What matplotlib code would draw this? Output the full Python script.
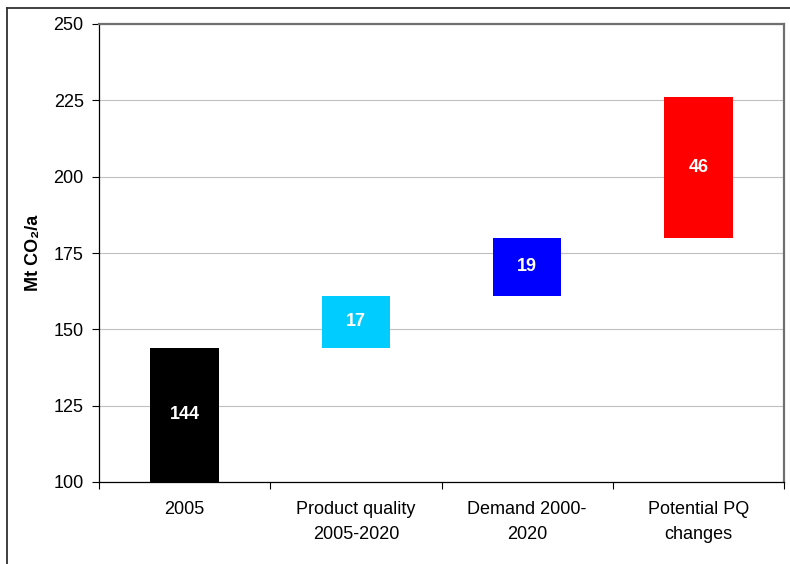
import matplotlib
matplotlib.use("Agg")
import matplotlib.pyplot as plt
from matplotlib.lines import Line2D
import numpy as np

plt.rcParams['font.family'] = ['Liberation Sans', 'DejaVu Sans']

categories = ["2005", "Product quality\n2005-2020", "Demand 2000-\n2020", "Potential PQ\nchanges"]
values = [144, 17, 19, 46]
base_start = 100
colors = ["#000000", "#00CCFF", "#0000FF", "#FF0000"]
y_ticks = [100, 125, 150, 175, 200, 225, 250]

# waterfall bottoms: first bar starts at the axis floor, others stack on the running total
bottoms = []
running = 0
for i, v in enumerate(values):
    if i == 0:
        bottoms.append(base_start)
        running = v
    else:
        bottoms.append(running)
        running += v
heights = [values[0] - base_start] + values[1:]

W, H = 790, 564
fig = plt.figure(figsize=(W / 100, H / 100), dpi=100)
ax = fig.add_axes([99 / W, 1 - 482 / H, (784 - 99) / W, (482 - 24) / H])

x = np.arange(len(categories))
ax.bar(x, heights, bottom=bottoms, width=0.4, color=colors, zorder=3)

for xi, b, h, v in zip(x, bottoms, heights, values):
    ax.text(xi, b + h / 2, f"{v}", ha="center", va="center", color="white",
            fontsize=13, fontweight="bold", zorder=4)

ax.set_xlim(-0.5, len(categories) - 0.5)
ax.set_ylim(100, 250)
ax.set_yticks(y_ticks)
ax.tick_params(axis="y", direction="out", length=5, width=0.8, labelsize=13, pad=6, colors="black")
ax.yaxis.grid(True, color="#C0C0C0", linewidth=0.8, zorder=0)

ax.set_xticks(x)
ax.set_xticklabels(categories, fontsize=13, linespacing=1.6)
ax.tick_params(axis="x", length=0, pad=14)
ax.set_xticks(np.arange(len(categories) + 1) - 0.5, minor=True)
ax.tick_params(axis="x", which="minor", direction="out", length=5, width=0.8, color="black")

ax.set_ylabel("Mt CO\u2082/a", fontsize=13, fontweight="bold", labelpad=8)

for side in ("left", "bottom"):
    ax.spines[side].set_color("black")
    ax.spines[side].set_linewidth(0.9)
for side in ("top", "right"):
    ax.spines[side].set_color("#707070")
    ax.spines[side].set_linewidth(1.6)

# outer frame of the figure (left and top edges)
fig.add_artist(Line2D([6.5 / W, 6.5 / W], [0, 1 - 7.5 / H], transform=fig.transFigure,
                      color="#303030", linewidth=1.3))
fig.add_artist(Line2D([6.5 / W, 1], [1 - 7.5 / H, 1 - 7.5 / H], transform=fig.transFigure,
                      color="#303030", linewidth=1.3))

fig.savefig("out.png", dpi=100)
